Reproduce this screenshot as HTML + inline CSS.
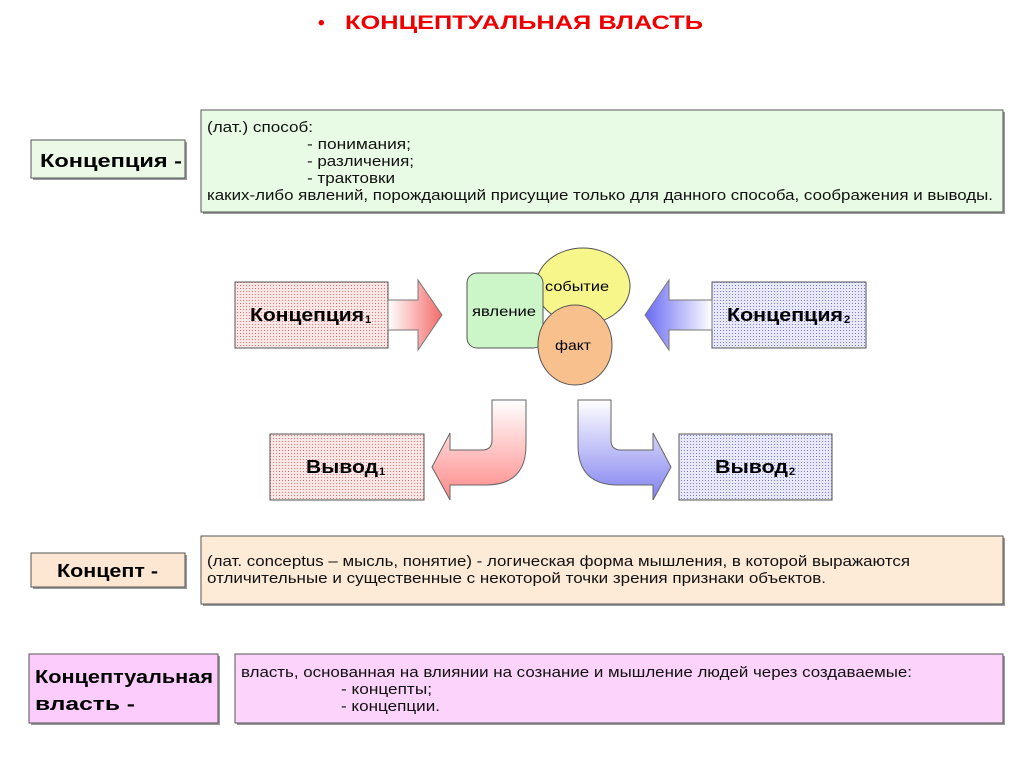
<!DOCTYPE html>
<html><head><meta charset="utf-8"><style>
body{margin:0;background:#fff;}
svg{display:block;}
text{font-family:"Liberation Sans",Arial,sans-serif;}
</style></head><body>
<svg width="1024" height="768" viewBox="0 0 1024 768" xmlns="http://www.w3.org/2000/svg">
<defs>
<pattern id="pr" width="3" height="3" patternUnits="userSpaceOnUse"><rect width="3" height="3" fill="#fbe6e6"/><rect width="1" height="1" fill="#e07a7a"/></pattern>
<pattern id="pb" width="3" height="3" patternUnits="userSpaceOnUse"><rect width="3" height="3" fill="#e8e8fb"/><rect width="1" height="1" fill="#7a7ae0"/></pattern>
<linearGradient id="gr" x1="0" y1="0" x2="1" y2="0"><stop offset="0" stop-color="#fff"/><stop offset="1" stop-color="#f46a6a"/></linearGradient>
<linearGradient id="gb" x1="0" y1="0" x2="1" y2="0"><stop offset="0" stop-color="#6a6af4"/><stop offset="1" stop-color="#fff"/></linearGradient>
<linearGradient id="gr2" x1="0" y1="0" x2="0" y2="1"><stop offset="0" stop-color="#fff"/><stop offset="1" stop-color="#f88"/></linearGradient>
<linearGradient id="gb2" x1="0" y1="0" x2="0" y2="1"><stop offset="0" stop-color="#fff"/><stop offset="1" stop-color="#8080f0"/></linearGradient>
</defs>

<text x="318" y="29" font-size="19" font-weight="bold" fill="#e00">•</text>
<text x="345" y="29" font-size="19" font-weight="bold" fill="#e00" textLength="358" lengthAdjust="spacingAndGlyphs">КОНЦЕПТУАЛЬНАЯ ВЛАСТЬ</text>

<rect x="33" y="142" width="154" height="38" fill="#999"/>
<rect x="31" y="140" width="154" height="38" fill="#ebf9e6" stroke="#555"/>
<text x="40" y="167" font-size="18" font-weight="bold" textLength="142" lengthAdjust="spacingAndGlyphs">Концепция -</text>
<rect x="203" y="112" width="802" height="102" fill="#999"/>
<rect x="201" y="110" width="802" height="102" fill="#e8fbe4" stroke="#555"/>
<g font-size="15" fill="#111">
<text x="207" y="132" textLength="106" lengthAdjust="spacingAndGlyphs">(лат.) способ:</text>
<text x="307" y="149" textLength="104" lengthAdjust="spacingAndGlyphs">- понимания;</text>
<text x="307" y="166" textLength="107" lengthAdjust="spacingAndGlyphs">- различения;</text>
<text x="307" y="183" textLength="88" lengthAdjust="spacingAndGlyphs">- трактовки</text>
<text x="207" y="200" textLength="786" lengthAdjust="spacingAndGlyphs">каких-либо явлений, порождающий присущие только для данного способа, соображения и выводы.</text>
</g>

<rect x="235" y="282" width="153" height="66" fill="url(#pr)" stroke="#555"/>
<text x="250" y="321" font-size="18" font-weight="bold" textLength="114" lengthAdjust="spacingAndGlyphs">Концепция</text>
<text x="365" y="323" font-size="11" font-weight="bold">1</text>
<path d="M388,300 L418,300 L418,280 L442,315 L418,350 L418,330 L388,330 Z" fill="url(#gr)" stroke="#777"/>

<rect x="712" y="282" width="154" height="66" fill="url(#pb)" stroke="#555"/>
<text x="727" y="321" font-size="18" font-weight="bold" textLength="116" lengthAdjust="spacingAndGlyphs">Концепция</text>
<text x="844" y="323" font-size="11" font-weight="bold">2</text>
<path d="M712,300 L669,300 L669,280 L645,315 L669,350 L669,330 L712,330 Z" fill="url(#gb)" stroke="#777"/>

<ellipse cx="583" cy="286" rx="47" ry="38" fill="#f6f68a" stroke="#555"/>
<rect x="467" y="273" width="76" height="75" rx="10" fill="#ccf5c8" stroke="#555"/>
<ellipse cx="575" cy="345" rx="37" ry="40" fill="#f8c08c" stroke="#555"/>
<text x="472" y="316" font-size="14" textLength="64" lengthAdjust="spacingAndGlyphs">явление</text>
<text x="545" y="291" font-size="14" textLength="64" lengthAdjust="spacingAndGlyphs">событие</text>
<text x="555" y="350" font-size="14" textLength="36" lengthAdjust="spacingAndGlyphs">факт</text>

<rect x="270" y="434" width="154" height="66" fill="url(#pr)" stroke="#555"/>
<text x="306" y="473" font-size="18" font-weight="bold" textLength="72" lengthAdjust="spacingAndGlyphs">Вывод</text>
<text x="379" y="475" font-size="11" font-weight="bold">1</text>
<path d="M492,400 L526,400 L526,445 Q526,485 486,485 L450,485 L450,500 L432,467 L450,433 L450,450 L482,450 Q492,450 492,440 Z" fill="url(#gr2)" stroke="#666"/>

<rect x="679" y="434" width="153" height="66" fill="url(#pb)" stroke="#555"/>
<text x="715" y="473" font-size="18" font-weight="bold" textLength="73" lengthAdjust="spacingAndGlyphs">Вывод</text>
<text x="789" y="475" font-size="11" font-weight="bold">2</text>
<path d="M578,400 L611,400 L611,440 Q611,450 621,450 L653,450 L653,433 L671,467 L653,500 L653,485 L618,485 Q578,485 578,445 Z" fill="url(#gb2)" stroke="#666"/>

<rect x="33" y="555" width="154" height="34" fill="#999"/>
<rect x="31" y="553" width="154" height="34" fill="#fde6d2" stroke="#555"/>
<text x="57" y="577" font-size="18" font-weight="bold" textLength="101" lengthAdjust="spacingAndGlyphs">Концепт -</text>
<rect x="203" y="538" width="802" height="68" fill="#999"/>
<rect x="201" y="536" width="802" height="68" fill="#fdead7" stroke="#555"/>
<g font-size="15" fill="#111">
<text x="207" y="566" textLength="703" lengthAdjust="spacingAndGlyphs">(лат. conceptus – мысль, понятие) - логическая форма мышления, в которой выражаются</text>
<text x="207" y="583" textLength="619" lengthAdjust="spacingAndGlyphs">отличительные и существенные с некоторой точки зрения признаки объектов.</text>
</g>

<rect x="31" y="656" width="189" height="69" fill="#999"/>
<rect x="29" y="654" width="189" height="69" fill="#fccdfc" stroke="#555"/>
<text x="35" y="683" font-size="18" font-weight="bold" textLength="178" lengthAdjust="spacingAndGlyphs">Концептуальная</text>
<text x="35" y="710" font-size="18" font-weight="bold" textLength="100" lengthAdjust="spacingAndGlyphs">власть  -</text>
<rect x="237" y="656" width="768" height="69" fill="#999"/>
<rect x="235" y="654" width="768" height="69" fill="#fbd3fb" stroke="#555"/>
<g font-size="15" fill="#111">
<text x="241" y="677" textLength="671" lengthAdjust="spacingAndGlyphs">власть, основанная на влиянии на сознание и мышление людей через создаваемые:</text>
<text x="341" y="694" textLength="91" lengthAdjust="spacingAndGlyphs">- концепты;</text>
<text x="341" y="711" textLength="99" lengthAdjust="spacingAndGlyphs">- концепции.</text>
</g>
</svg>
</body></html>
